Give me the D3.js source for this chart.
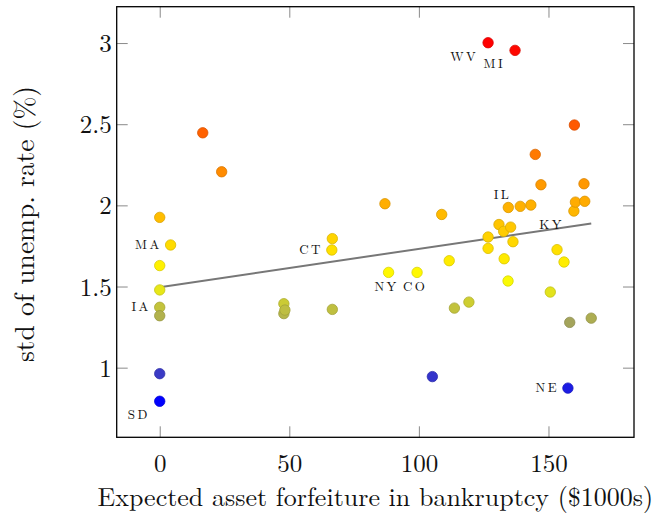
<!DOCTYPE html>
<html>
<head>
<meta charset="utf-8">
<script src="https://cdn.jsdelivr.net/npm/d3@7"></script>
<style>
  body { margin: 0; background: #fff; }
</style>
</head>
<body>
<div id="chart"></div>
<script>
// forfeiture ($1000s) and std of unemployment rate, one entry per state
var forfeiture = [0, 4.2, 0, 0, 0, 0, 0, 0, 16.6, 23.9,
                  47.9, 47.9, 48.3, 66.6, 66.4, 66.6, 86.9, 88.3, 99.3, 105.2,
                  108.8, 111.7, 113.7, 119.3, 126.7, 126.7, 126.7, 130.9, 132.7, 132.9,
                  134.4, 134.5, 135.4, 136.3, 137.1, 139.1, 143.2, 144.9, 147.1, 150.7,
                  153.3, 156.0, 157.5, 158.2, 159.8, 160.0, 160.4, 163.7, 164.0, 166.5];
var unempStd = [1.926, 1.756, 1.629, 1.479, 1.372, 1.320, 0.963, 0.793, 2.447, 2.207,
                1.394, 1.333, 1.355, 1.795, 1.725, 1.359, 2.010, 1.587, 1.587, 0.945,
                1.944, 1.659, 1.367, 1.404, 3.002, 1.805, 1.735, 1.882, 1.840, 1.671,
                1.534, 1.987, 1.866, 1.776, 2.955, 1.994, 2.002, 2.314, 2.127, 1.466,
                1.727, 1.651, 0.874, 1.279, 1.965, 2.495, 2.020, 2.133, 2.025, 1.305];

// labelled states: index into the arrays above, and where the label sits
var labelNames = ["MA", "IA", "SD", "CT", "NY", "CO", "WV", "IL", "MI", "NE", "KY"];
var labelIndex = [1, 4, 7, 14, 17, 18, 24, 31, 34, 42, 44];
var labelPos = ["left", "left", "below left", "left", "below", "below", "below left",
                "above left", "below left", "left", "below left"];

// fitted line: intercept and slope
var fitIntercept = 1.496;
var fitSlope = 0.00236;

var xTicks = [0, 50, 100, 150];
var yTicks = [1, 1.5, 2, 2.5, 3];

var width = 660, height = 513;
var margin = {top: 6.7, right: 26, bottom: 75.7, left: 116.7};
var font = "'Latin Modern Roman', 'Liberation Serif', serif";

var svg = d3.select("#chart").append("svg")
    .attr("width", width)
    .attr("height", height);

var x = d3.scaleLinear()
    .domain([-16.6, 183])
    .range([margin.left, width - margin.right]);
var y = d3.scaleLinear()
    .domain([0.571, 3.224])
    .range([height - margin.bottom, margin.top]);

var color = d3.scaleLinear()
    .domain([0.79, 1.55, 3.0])
    .range(["#0000ff", "#ffff00", "#ff0000"])
    .interpolate(d3.interpolateRgb);

var tickLen = 11;

// axes, ticks pointing inward
var xAxis = svg.append("g")
    .attr("transform", "translate(0," + (height - margin.bottom) + ")")
    .call(d3.axisBottom(x).tickValues(xTicks).tickSize(-tickLen).tickPadding(16.5).tickFormat(d3.format("d")));
var xTop = svg.append("g")
    .attr("transform", "translate(0," + margin.top + ")")
    .call(d3.axisTop(x).tickValues(xTicks).tickSize(-tickLen).tickFormat(""));
var yAxis = svg.append("g")
    .attr("transform", "translate(" + margin.left + ",0)")
    .call(d3.axisLeft(y).tickValues(yTicks).tickSize(-tickLen).tickPadding(5).tickFormat(function(d) { return d; }));
var yRight = svg.append("g")
    .attr("transform", "translate(" + (width - margin.right) + ",0)")
    .call(d3.axisRight(y).tickValues(yTicks).tickSize(-tickLen).tickFormat(""));

[xAxis, xTop, yAxis, yRight].forEach(function(g) {
    g.select(".domain").remove();
    g.selectAll(".tick line").attr("stroke", "#8a8a8a").attr("stroke-width", 1);
    g.selectAll(".tick text")
        .style("font-family", font)
        .style("font-size", "25px")
        .attr("fill", "#111");
});
yAxis.selectAll(".tick text").attr("dy", "0.34em");

// fitted line from 0 to the largest forfeiture value
var xMax = d3.max(forfeiture);
svg.append("line")
    .attr("x1", x(0))
    .attr("y1", y(fitIntercept))
    .attr("x2", x(xMax))
    .attr("y2", y(fitIntercept + fitSlope * xMax))
    .attr("stroke", "#777")
    .attr("stroke-width", 2);

// points
svg.selectAll("circle.pt")
    .data(d3.range(forfeiture.length))
    .enter()
    .append("circle")
    .attr("class", "pt")
    .attr("cx", function(i) { return x(forfeiture[i]); })
    .attr("cy", function(i) { return y(unempStd[i]); })
    .attr("r", 5.2)
    .attr("fill", function(i) { return color(unempStd[i]); })
    .attr("stroke", function(i) { return d3.color(color(unempStd[i])).darker(0.45); })
    .attr("stroke-width", 0.8);

// state labels
var offsets = {
    "left":       {anchor: "end",    dx: -9,  dy: 4},
    "below left": {anchor: "end",    dx: -10, dy: 18},
    "below":      {anchor: "middle", dx: -2,  dy: 19},
    "above left": {anchor: "end",    dx: 3,   dy: -8}
};
svg.selectAll("text.state")
    .data(labelNames)
    .enter()
    .append("text")
    .attr("class", "state")
    .attr("x", function(d, k) { return x(forfeiture[labelIndex[k]]) + offsets[labelPos[k]].dx; })
    .attr("y", function(d, k) { return y(unempStd[labelIndex[k]]) + offsets[labelPos[k]].dy; })
    .attr("text-anchor", function(d, k) { return offsets[labelPos[k]].anchor; })
    .style("font-family", font)
    .style("font-size", "13px")
    .style("letter-spacing", "2.4px")
    .attr("fill", "#111")
    .text(function(d) { return d; });

// frame
svg.append("rect")
    .attr("x", margin.left)
    .attr("y", margin.top)
    .attr("width", width - margin.left - margin.right)
    .attr("height", height - margin.top - margin.bottom)
    .attr("fill", "none")
    .attr("stroke", "#000")
    .attr("stroke-width", 1.3);

// axis titles
svg.append("text")
    .attr("x", (margin.left + width - margin.right) / 2)
    .attr("y", 506)
    .attr("text-anchor", "middle")
    .style("font-family", font)
    .style("font-size", "26px")
    .attr("fill", "#111")
    .text("Expected asset forfeiture in bankruptcy ($1000s)");

svg.append("text")
    .attr("transform", "translate(34," + 224 + ") rotate(-90)")
    .attr("text-anchor", "middle")
    .style("font-family", font)
    .style("font-size", "27.5px")
    .attr("fill", "#111")
    .text("std of unemp. rate (%)");
</script>
</body>
</html>
